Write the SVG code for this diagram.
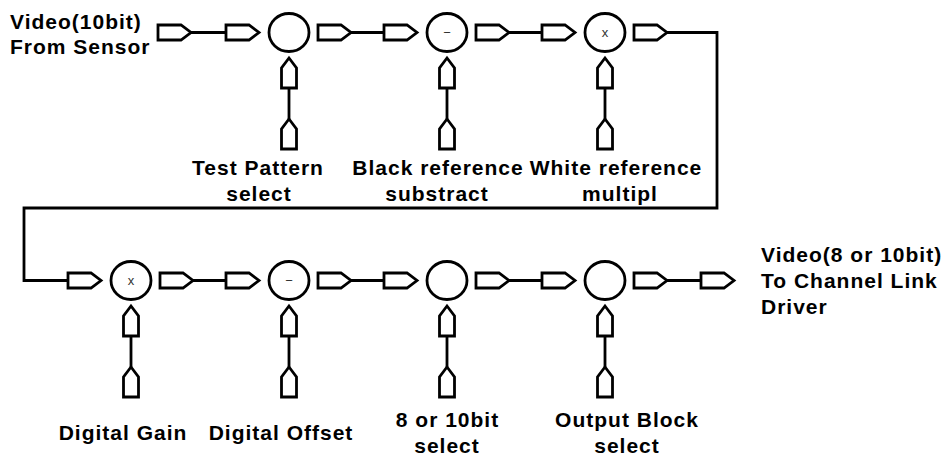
<svg xmlns="http://www.w3.org/2000/svg" width="943" height="457" viewBox="0 0 943 457">
<style>
.s{fill:#fff;stroke:#000;stroke-width:2.8;stroke-linejoin:miter}
.c{fill:none;stroke:#000;stroke-width:2.8}
.t{font-family:"Liberation Sans",Arial,sans-serif;font-weight:bold;font-size:21px;letter-spacing:1px;fill:#000}
.m{text-anchor:middle}
.o{font-family:"Liberation Sans",Arial,sans-serif;font-size:13px;fill:#333;text-anchor:middle}
</style>
<defs>
<path id="ph" class="s" d="M0,-7.5 H23 L33,0 L23,7.5 H0 Z"/>
<path id="pv" class="s" d="M0,0 L7.5,10 V30 H-7.5 V10 Z"/>
</defs>
<g id="connectors">
<path class="c" d="M191,32.5 H226"/>
<path class="c" d="M351,32.5 H384"/>
<path class="c" d="M509,32.5 H542"/>
<path class="c" d="M667,32.5 H717 V208 H24 V280.5 H68"/>
<path class="c" d="M193,280.5 H226"/>
<path class="c" d="M351,280.5 H384"/>
<path class="c" d="M509,280.5 H542"/>
<path class="c" d="M667,280.5 H701"/>
<path class="c" d="M289,88 V119 M447,88 V119 M605,88 V119"/>
<path class="c" d="M131,336 V367 M289,336 V367 M447,336 V367 M605,336 V367"/>
</g>
<g id="src">
<use href="#ph" x="158" y="32.5"/>
<text class="t" x="10" y="29">Video(10bit)</text>
<text class="t" x="10" y="54">From Sensor</text>
</g>
<g id="test-pattern">
<use href="#ph" x="226" y="32.5"/>
<ellipse class="s" cx="289" cy="32.5" rx="20" ry="19"/>
<use href="#ph" x="318" y="32.5"/>
<use href="#pv" x="289" y="58"/>
<use href="#pv" x="289" y="119"/>
<text class="t m" x="258" y="175">Test Pattern</text>
<text class="t m" x="259" y="201">select</text>
</g>
<g id="black-ref">
<use href="#ph" x="384" y="32.5"/>
<ellipse class="s" cx="447" cy="32.5" rx="20" ry="19"/>
<text class="o" x="447" y="37">−</text>
<use href="#ph" x="476" y="32.5"/>
<use href="#pv" x="447" y="58"/>
<use href="#pv" x="447" y="119"/>
<text class="t m" x="438" y="175">Black reference</text>
<text class="t m" x="437" y="201">substract</text>
</g>
<g id="white-ref">
<use href="#ph" x="542" y="32.5"/>
<ellipse class="s" cx="605" cy="32.5" rx="20" ry="19"/>
<text class="o" x="605" y="37">x</text>
<use href="#ph" x="634" y="32.5"/>
<use href="#pv" x="605" y="58"/>
<use href="#pv" x="605" y="119"/>
<text class="t m" x="616" y="175">White reference</text>
<text class="t m" x="620" y="201">multipl</text>
</g>
<g id="digital-gain">
<use href="#ph" x="68" y="280.5"/>
<ellipse class="s" cx="131" cy="280.5" rx="20" ry="19"/>
<text class="o" x="131" y="285">x</text>
<use href="#ph" x="160" y="280.5"/>
<use href="#pv" x="131" y="306"/>
<use href="#pv" x="131" y="367"/>
<text class="t m" x="123" y="440">Digital Gain</text>
</g>
<g id="digital-offset">
<use href="#ph" x="226" y="280.5"/>
<ellipse class="s" cx="289" cy="280.5" rx="20" ry="19"/>
<text class="o" x="289" y="285">−</text>
<use href="#ph" x="318" y="280.5"/>
<use href="#pv" x="289" y="306"/>
<use href="#pv" x="289" y="367"/>
<text class="t m" x="281" y="440">Digital Offset</text>
</g>
<g id="bit-select">
<use href="#ph" x="384" y="280.5"/>
<ellipse class="s" cx="447" cy="280.5" rx="20" ry="19"/>
<use href="#ph" x="476" y="280.5"/>
<use href="#pv" x="447" y="306"/>
<use href="#pv" x="447" y="367"/>
<text class="t m" x="447.5" y="427">8 or 10bit</text>
<text class="t m" x="447" y="453">select</text>
</g>
<g id="output-block">
<use href="#ph" x="542" y="280.5"/>
<ellipse class="s" cx="605" cy="280.5" rx="20" ry="19"/>
<use href="#ph" x="634" y="280.5"/>
<use href="#pv" x="605" y="306"/>
<use href="#pv" x="605" y="367"/>
<text class="t m" x="627" y="427">Output Block</text>
<text class="t m" x="627" y="453">select</text>
</g>
<g id="out">
<use href="#ph" x="701" y="280.5"/>
<text class="t" x="761" y="262">Video(8 or 10bit)</text>
<text class="t" x="761" y="288">To Channel Link</text>
<text class="t" x="761" y="314">Driver</text>
</g>
</svg>
